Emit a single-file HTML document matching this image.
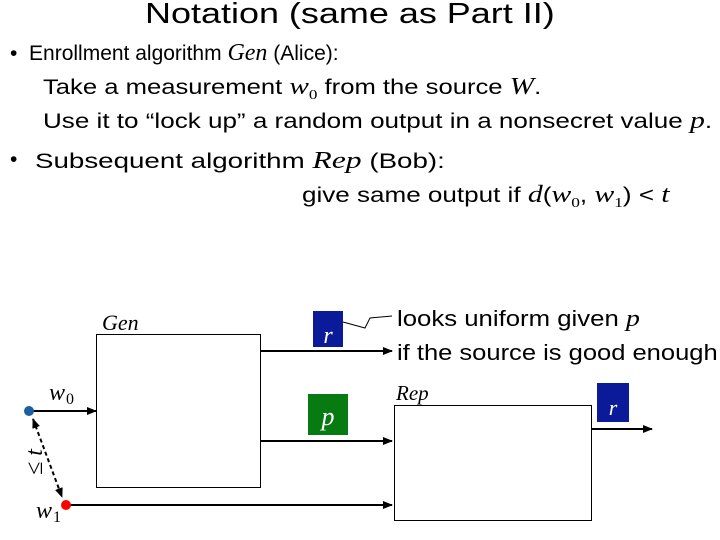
<!DOCTYPE html>
<html><head><style>
body{margin:0;width:720px;height:540px;background:#fff;position:relative;overflow:hidden;font-family:"Liberation Sans",sans-serif;}
.t{position:absolute;white-space:nowrap;color:#000;transform-origin:0 50%;}
i.s{font-family:"Liberation Serif",serif;font-size:24px;}
sub{font-family:"Liberation Serif",serif;font-size:14px}
</style></head><body>
<div class="t" style="left:145px;top:-2px;font-size:29px;transform:scaleX(1.24);">Notation (same as Part II)</div>
<div class="t" style="left:10px;top:40px;font-size:21px;">• &nbsp;Enrollment algorithm <i class="s">Gen</i> (Alice):</div>
<div class="t" style="left:43px;top:74px;font-size:21px;transform:scaleX(1.22);">Take a measurement <i class="s">w</i><sub>0</sub> from the source <i class="s">W</i>.</div>
<div class="t" style="left:43px;top:108px;font-size:21px;transform:scaleX(1.24);">Use it to “lock up” a random output in a nonsecret value <i class="s">p</i>.</div>
<div class="t" style="left:10px;top:148px;font-size:21px;">•</div>
<div class="t" style="left:35px;top:148px;font-size:21px;transform:scaleX(1.32);">Subsequent algorithm <i class="s">Rep</i> (Bob):</div>
<div class="t" style="left:302px;top:182px;font-size:21px;transform:scaleX(1.24);">give same output if <i class="s">d</i>(<i class="s">w</i><sub>0</sub>, <i class="s">w</i><sub>1</sub>) &lt; <i class="s">t</i></div>
<svg style="position:absolute;left:0;top:0" width="720" height="540">
<defs><marker id="a" markerWidth="10" markerHeight="8" refX="9" refY="4" orient="auto" markerUnits="userSpaceOnUse"><path d="M0,0L10,4L0,8z"/></marker>
<marker id="b" markerWidth="10" markerHeight="8" refX="1" refY="4" orient="auto" markerUnits="userSpaceOnUse"><path d="M10,0L0,4L10,8z"/></marker></defs>
<g stroke="#000" stroke-width="1" fill="none">
<rect x="96.5" y="334.5" width="164" height="153"/>
<rect x="394.5" y="405.5" width="197" height="115"/>
</g>
<g stroke="#000" stroke-width="2" fill="none">
<line x1="29" y1="411" x2="96" y2="411" marker-end="url(#a)"/>
<line x1="260" y1="351" x2="392" y2="351" marker-end="url(#a)"/>
<line x1="260" y1="441" x2="392" y2="441" marker-end="url(#a)"/>
<line x1="66" y1="505" x2="392" y2="505" marker-end="url(#a)"/>
<line x1="591" y1="429" x2="652" y2="429" marker-end="url(#a)"/>
<line x1="33" y1="419" x2="62" y2="497" stroke-dasharray="4,3" marker-end="url(#a)" marker-start="url(#b)"/>
</g>
<path d="M343,322 L365,328 L370,318 L392,316" stroke="#000" fill="none" stroke-width="1"/>
<rect x="313" y="311" width="30" height="36" fill="#0a1a99"/>
<rect x="308" y="394" width="40" height="41" fill="#087a12"/>
<rect x="597" y="383" width="32" height="39" fill="#0a1a99"/>
<circle cx="29" cy="411" r="5" fill="#1a5fa0"/>
<circle cx="66" cy="505" r="5" fill="#f00"/>
<g font-family="Liberation Serif" font-style="italic">
<text x="328" y="343" font-size="24" fill="#fff" text-anchor="middle">r</text>
<text x="328" y="425" font-size="26" fill="#fff" text-anchor="middle">p</text>
<text x="613" y="415" font-size="22" fill="#fff" text-anchor="middle">r</text>
<text x="102" y="330" font-size="22">Gen</text>
<text x="396" y="400" font-size="21">Rep</text>
<text x="49" y="400" font-size="24">w</text>
<text x="36" y="518" font-size="24">w</text>
<text font-size="24" transform="translate(42,462) rotate(-90)" text-anchor="middle">≤ t</text>
</g>
<g font-family="Liberation Serif" font-size="16">
<text x="66" y="404">0</text><text x="53" y="522">1</text>
</g>
</svg>
<div class="t" style="left:397px;top:306px;font-size:22px;transform:scaleX(1.17);">looks uniform given <i class="s">p</i></div>
<div class="t" style="left:397px;top:340px;font-size:22px;transform:scaleX(1.16);">if the source is good enough</div>
</body></html>
